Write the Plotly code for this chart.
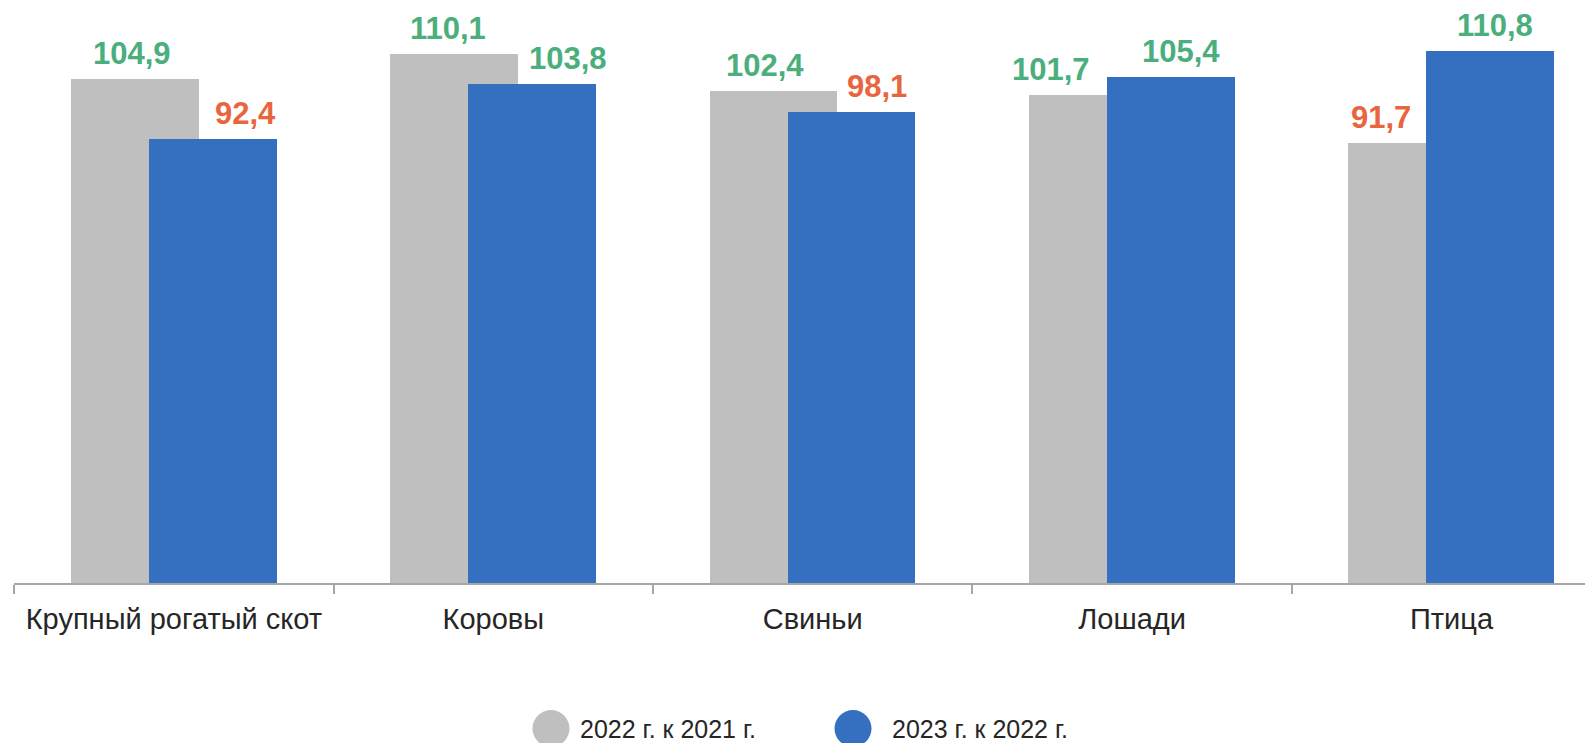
import plotly.graph_objects as go

categories = ["Крупный рогатый скот", "Коровы", "Свиньи", "Лошади", "Птица"]
series_2022 = [104.9, 110.1, 102.4, 101.7, 91.7]
series_2023 = [92.4, 103.8, 98.1, 105.4, 110.8]
series_names = ["2022 г. к 2021 г.", "2023 г. к 2022 г."]

# layout tweaks (not data)
GRAY = "#BFBFBF"
BLUE = "#3570C0"
GREEN = "#4BAE7D"
ORANGE = "#E8653E"
FONT = "Liberation Sans"
W, H = 1593, 743
PAGE = 8  # default body margin of the html page
bar_w = 0.40
off = 0.122
shift_2022 = [-3, -6, -9, -42, -32]
shift_2023 = [33, 36, 25, 10, 5]

xs = list(range(len(categories)))

fig = go.Figure()
fig.add_trace(go.Bar(x=xs, y=series_2022, width=bar_w, offset=-off - bar_w / 2,
                     marker=dict(color=GRAY, line=dict(width=0)), name=series_names[0],
                     showlegend=False, hoverinfo="skip"))
fig.add_trace(go.Bar(x=xs, y=series_2023, width=bar_w, offset=off - bar_w / 2,
                     marker=dict(color=BLUE, line=dict(width=0)), name=series_names[1],
                     showlegend=False, hoverinfo="skip"))

def fmt(v):
    return f"{v:.1f}".replace(".", ",")

annotations = []
for i, v in enumerate(series_2022):
    annotations.append(dict(x=i - off, y=v, xref="x", yref="y", text=fmt(v),
                            showarrow=False, yanchor="bottom", xanchor="center", xshift=shift_2022[i], yshift=6,
                            font=dict(family=FONT, size=31, color=GREEN if v >= 100 else ORANGE, weight="bold")))
for i, v in enumerate(series_2023):
    annotations.append(dict(x=i + off, y=v, xref="x", yref="y", text=fmt(v),
                            showarrow=False, yanchor="bottom", xanchor="center", xshift=shift_2023[i], yshift=6,
                            font=dict(family=FONT, size=31, color=GREEN if v >= 100 else ORANGE, weight="bold")))

# custom legend on helper axes (pixel-like scale)
leg_x = [551 - PAGE, 853 - PAGE]
leg_text_dx = [27, 37]
leg_y = 743 - 728.5 + PAGE
fig.add_trace(go.Scatter(x=leg_x, y=[leg_y, leg_y], xaxis="x2", yaxis="y2", mode="markers",
                         marker=dict(size=37, color=[GRAY, BLUE], line=dict(width=0)),
                         showlegend=False, hoverinfo="skip", cliponaxis=False))
for lx, dx, name in zip(leg_x, leg_text_dx, series_names):
    annotations.append(dict(x=lx + dx, y=leg_y, xref="x2", yref="y2", text=name, showarrow=False,
                            xanchor="left", yanchor="middle",
                            font=dict(family=FONT, size=25, color="#262626")))

y_bottom_px = 583 - PAGE
px_per_unit = 4.803
left_px = 14.2 - PAGE
cat_px = 319.4

fig.update_layout(
    width=W, height=H,
    margin=dict(l=0, r=0, t=0, b=0),
    paper_bgcolor="white", plot_bgcolor="white",
    barmode="overlay",
    bargap=0,
    annotations=annotations,
    showlegend=False,
    xaxis=dict(
        domain=[left_px / W, 1],
        range=[-0.5, -0.5 + (W - left_px) / cat_px],
        tickmode="array", tickvals=xs, ticktext=categories,
        ticks="", showgrid=False, zeroline=False,
        showline=True, linecolor="#A6A6A6", linewidth=1.5,
        tickfont=dict(family=FONT, size=29, color="#262626"),
        ticklabelstandoff=9,
        minor=dict(tickmode="array", tickvals=[x - 0.5 for x in xs], ticks="outside",
                   ticklen=9, tickcolor="#A6A6A6", tickwidth=1.5, showgrid=False),
        fixedrange=True,
    ),
    yaxis=dict(
        domain=[(H - y_bottom_px) / H, 1],
        range=[0, y_bottom_px / px_per_unit],
        visible=False, showgrid=False, zeroline=False, fixedrange=True,
    ),
    xaxis2=dict(domain=[0, 1], range=[0, W], visible=False, anchor="y2", fixedrange=True),
    yaxis2=dict(domain=[0, 60 / H], range=[0, 60], visible=False, anchor="x2", fixedrange=True),
)

fig.write_html("out.html", config={"displayModeBar": False})
